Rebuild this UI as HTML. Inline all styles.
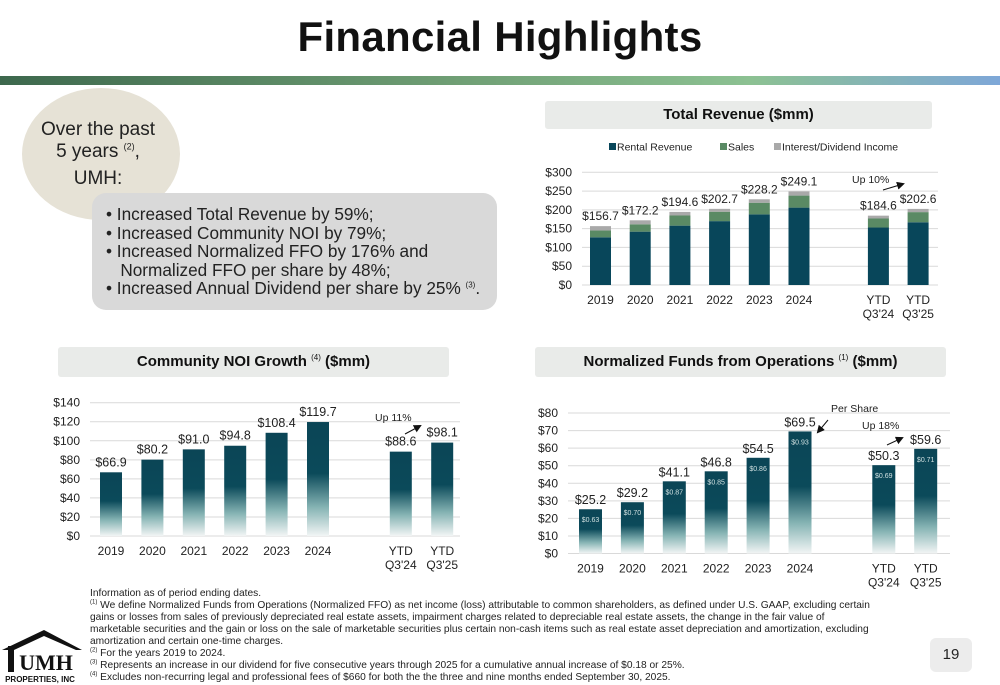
<!DOCTYPE html>
<html><head><meta charset="utf-8">
<style>
body{margin:0;width:1000px;height:685px;background:#fff;font-family:"Liberation Sans",sans-serif;overflow:hidden;position:relative}
.abs{position:absolute}
sup{line-height:0;vertical-align:super}
</style></head>
<body>
<div class="abs" style="left:0;top:13px;width:1000px;text-align:center;font-size:42px;font-weight:bold;color:#111;letter-spacing:0.3px">Financial Highlights</div>
<div class="abs" style="left:0;top:76px;width:1000px;height:9px;background:linear-gradient(90deg,#3d684d,#6f9e74 45%,#8cc192 75%,#7ea7d8)"></div>

<div class="abs" style="left:22px;top:88px;width:158px;height:132px;border-radius:50%;background:#e6e2d6"></div>
<div class="abs" style="left:22px;top:119px;width:152px;text-align:center;font-size:19px;line-height:22px;color:#222">Over the past<br>5 years <sup style="font-size:9px">(2)</sup>,<br><span style="line-height:32px">UMH:</span></div>
<div class="abs" style="left:92px;top:193px;width:405px;height:117px;border-radius:14px;background:#d9d9d9"></div>
<div class="abs" style="left:106px;top:205px;font-size:17.2px;line-height:18.5px;color:#222">
• Increased Total Revenue by 59%;<br>• Increased Community NOI by 79%;<br>• Increased Normalized FFO by 176% and<br>&nbsp;&nbsp;&nbsp;Normalized FFO per share by 48%;<br>• Increased Annual Dividend per share by 25% <sup style="font-size:8px">(3)</sup>.</div>

<div class="abs" style="left:545px;top:101px;width:387px;height:28px;background:#e9ebe9;border-radius:3px;text-align:center;font-weight:bold;font-size:15px;line-height:28px;color:#111">Total Revenue ($mm)</div>
<div class="abs" style="left:58px;top:347px;width:391px;height:30px;background:#e9ebe9;border-radius:3px;text-align:center;font-weight:bold;font-size:15px;line-height:30px;color:#111">Community NOI Growth <sup style="font-size:8px;font-weight:normal">(4)</sup> ($mm)</div>
<div class="abs" style="left:535px;top:347px;width:411px;height:30px;background:#e9ebe9;border-radius:3px;text-align:center;font-weight:bold;font-size:15px;line-height:30px;color:#111">Normalized Funds from Operations <sup style="font-size:8px;font-weight:normal">(1)</sup> ($mm)</div>

<svg class="abs" style="left:0;top:0" width="1000" height="685">
<defs>
<linearGradient id="bg" x1="0" y1="0" x2="0" y2="1">
<stop offset="0" stop-color="#0b4556"/><stop offset="0.45" stop-color="#0b4a5a"/><stop offset="0.75" stop-color="#86b4b4"/><stop offset="1" stop-color="#f2f5f5"/>
</linearGradient>
<marker id="ah" markerWidth="8" markerHeight="8" refX="6" refY="4" orient="auto"><path d="M0,0 L8,4 L0,8z" fill="#111"/></marker>
</defs>
<g id="rev"></g><g id="noi"></g><g id="ffo"></g>
</svg>

<div class="abs" style="left:90px;top:588px;font-size:10.2px;line-height:12px;color:#222;width:785px">
Information as of period ending dates.<br>
<sup style="font-size:6px">(1)</sup> We define Normalized Funds from Operations (Normalized FFO) as net income (loss) attributable to common shareholders, as defined under U.S. GAAP, excluding certain gains or losses from sales of previously depreciated real estate assets, impairment charges related to depreciable real estate assets, the change in the fair value of marketable securities and the gain or loss on the sale of marketable securities plus certain non-cash items such as real estate asset depreciation and amortization, excluding amortization and certain one-time charges.<br>
<sup style="font-size:6px">(2)</sup> For the years 2019 to 2024.<br>
<sup style="font-size:6px">(3)</sup> Represents an increase in our dividend for five consecutive years through 2025 for a cumulative annual increase of $0.18 or 25%.<br>
<sup style="font-size:6px">(4)</sup> Excludes non-recurring legal and professional fees of $660 for both the the three and nine months ended September 30, 2025.</div>

<div class="abs" style="left:930px;top:638px;width:42px;height:34px;background:#ececec;border-radius:6px;text-align:center;line-height:34px;font-size:15px;color:#222">19</div>

<svg class="abs" style="left:0;top:628px" width="82" height="57">
<path d="M2,22 L44,2 L82,22 L76,22 L44,8 L14,22 Z" fill="#111"/>
<rect x="8" y="18" width="6" height="26" fill="#111"/>
<text x="46" y="42" text-anchor="middle" font-family="Liberation Serif,serif" font-weight="bold" font-size="22" fill="#111">UMH</text>
<text x="40" y="54" text-anchor="middle" font-size="8" font-weight="bold" fill="#111">PROPERTIES, INC</text>
</svg>

<script>
const NS="http://www.w3.org/2000/svg";
function mk(parent,tag,attrs,txt){const e=document.createElementNS(NS,tag);for(const k in attrs)e.setAttribute(k,attrs[k]);if(txt!==undefined)e.textContent=txt;parent.appendChild(e);return e;}

const categories=["2019","2020","2021","2022","2023","2024","YTD Q3'24","YTD Q3'25"];
const revRental=[127,142,158,170,188,206,153,167];
const revSales=[18,19.6,27,25,31,32,24,27];
const revInterest=[11.7,10.6,9.6,7.7,9.2,11.1,7.6,8.6];
const revTotals=["$156.7","$172.2","$194.6","$202.7","$228.2","$249.1","$184.6","$202.6"];
const revTicks=[0,50,100,150,200,250,300];
const noiValues=[66.9,80.2,91.0,94.8,108.4,119.7,88.6,98.1];
const noiTicks=[0,20,40,60,80,100,120,140];
const ffoValues=[25.2,29.2,41.1,46.8,54.5,69.5,50.3,59.6];
const ffoPerShare=["$0.63","$0.70","$0.87","$0.85","$0.86","$0.93","$0.69","$0.71"];
const ffoTicks=[0,10,20,30,40,50,60,70,80];

function setup(g,cfg){
  const y=v=>cfg.y0-(v/cfg.max)*(cfg.y0-cfg.y1);
  const x=i=>cfg.x0+(i<6?i:i+1)*cfg.step;
  cfg.ticks.forEach(t=>{
    const l=mk(g,"line",{x1:cfg.gl,x2:cfg.gr,y1:y(t),y2:y(t),stroke:"#d9d9d9","stroke-width":1});
    
    
    const tx=mk(g,"text",{x:cfg.gl-10,y:y(t)+4,"text-anchor":"end","font-size":12,fill:"#222"},"$"+t);
    
    
  });
  categories.forEach((c,i)=>{
    const parts=c.startsWith("YTD")?["YTD",c.slice(4)]:[c];
    parts.forEach((p,j)=>{
      const tx=mk(g,"text",{x:x(i),y:cfg.y0+19+j*14,"text-anchor":"middle","font-size":12,fill:"#222"},p);
      
      
    });
  });
  return {x,y};
}

// Revenue
(function(){
  const g=document.getElementById("rev");
  const cfg={y0:285,y1:172.3,max:300,x0:600.5,step:39.7,gl:582,gr:938,ticks:revTicks};
  const {x,y}=setup(g,cfg);const w=21;
  categories.forEach((c,i)=>{
    let base=0;
    [[revRental,"#08465a"],[revSales,"#5a8a64"],[revInterest,"#a9a9a9"]].forEach(([arr,col])=>{
      const r=mk(g,"rect",{x:x(i)-w/2,y:y(base+arr[i]),width:w,height:y(base)-y(base+arr[i]),fill:col});
      
      
      base+=arr[i];
    });
    const t=mk(g,"text",{x:x(i),y:y(base)-6,"text-anchor":"middle","font-size":12,fill:"#222"},revTotals[i]);
    
    
  });
  const leg=[["Rental Revenue","#08465a",609],["Sales","#5a8a64",720],["Interest/Dividend Income","#a9a9a9",774]];
  leg.forEach(([n,c,lx])=>{
    const r=mk(g,"rect",{x:lx,y:143,width:7,height:7,fill:c});
    
    
    const t=mk(g,"text",{x:lx+8,y:150.5,"font-size":10.5,fill:"#222"},n);
    
    
  });
  const a=mk(g,"text",{x:852,y:183,"font-size":10.5,fill:"#222"},"Up 10%");
  
  
  const ar=mk(g,"line",{x1:883,y1:190,x2:903,y2:184,stroke:"#111","stroke-width":1,"marker-end":"url(#ah)"});
  
  
})();

// NOI
(function(){
  const g=document.getElementById("noi");
  const cfg={y0:536,y1:402.7,max:140,x0:111,step:41.4,gl:90,gr:460,ticks:noiTicks};
  const {x,y}=setup(g,cfg);const w=22;
  noiValues.forEach((v,i)=>{
    const r=mk(g,"rect",{x:x(i)-w/2,y:y(v),width:w,height:y(0)-y(v),fill:"url(#bg)"});
    
    
    const t=mk(g,"text",{x:x(i),y:y(v)-6,"text-anchor":"middle","font-size":12.5,fill:"#222"},"$"+v.toFixed(1));
    
    
  });
  const a=mk(g,"text",{x:375,y:421,"font-size":10.5,fill:"#222"},"Up 11%");
  
  
  const ar=mk(g,"line",{x1:405,y1:434,x2:420,y2:426,stroke:"#111","stroke-width":1,"marker-end":"url(#ah)"});
  
  
})();

// FFO
(function(){
  const g=document.getElementById("ffo");
  const cfg={y0:553.5,y1:413,max:80,x0:590.5,step:41.9,gl:568,gr:950,ticks:ffoTicks};
  const {x,y}=setup(g,cfg);const w=23;
  ffoValues.forEach((v,i)=>{
    const r=mk(g,"rect",{x:x(i)-w/2,y:y(v),width:w,height:y(0)-y(v),fill:"url(#bg)"});
    
    
    const t=mk(g,"text",{x:x(i),y:y(v)-5,"text-anchor":"middle","font-size":12.5,fill:"#222"},"$"+v.toFixed(1));
    
    
    const p=mk(g,"text",{x:x(i),y:y(v)+13,"text-anchor":"middle","font-size":7,fill:"#cfe0e0"},ffoPerShare[i]);
    
    
  });
  const ps=mk(g,"text",{x:831,y:412,"font-size":10.5,fill:"#222"},"Per Share");
  
  
  const ar1=mk(g,"line",{x1:828,y1:420,x2:818,y2:432,stroke:"#111","stroke-width":1,"marker-end":"url(#ah)"});
  
  
  const a=mk(g,"text",{x:862,y:429,"font-size":10.5,fill:"#222"},"Up 18%");
  
  
  const ar=mk(g,"line",{x1:887,y1:445,x2:902,y2:438,stroke:"#111","stroke-width":1,"marker-end":"url(#ah)"});
  
  
})();
</script>
</body></html>
